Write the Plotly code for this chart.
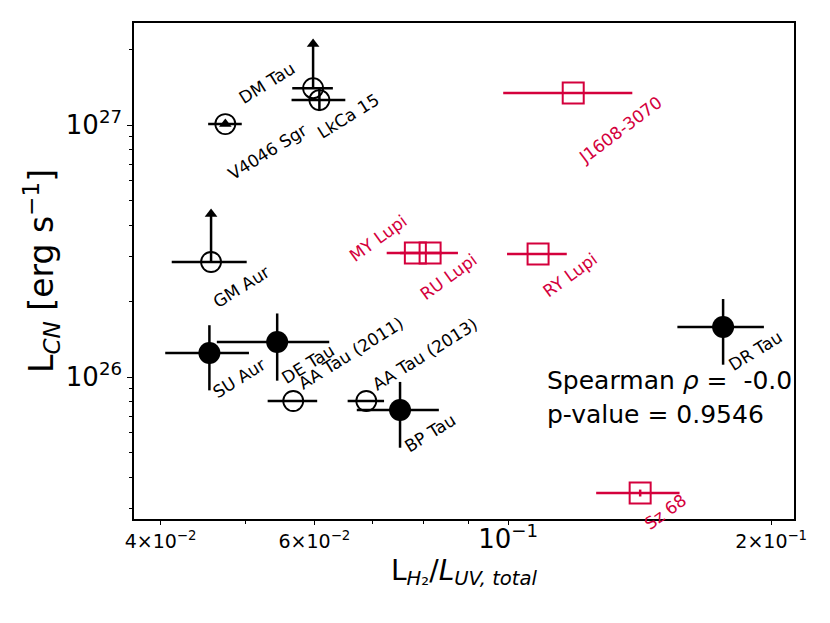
import numpy as np
import plotly.graph_objects as go

# ---------------- data ----------------
# filled black circles (detections)
det_names = ["SU Aur", "DE Tau", "BP Tau", "DR Tau"]
det_x = [0.0455, 0.0544, 0.0752, 0.1762]
det_xerr = [0.0050, 0.0080, 0.0081, 0.0200]
det_y = [1.245e26, 1.377e26, 7.40e25, 1.579e26]
det_yerr = [0.36e26, 0.41e26, 2.16e25, 0.46e26]

# open black circles
open_names = ["DM Tau", "LkCa 15", "V4046 Sgr", "GM Aur", "AA Tau (2011)", "AA Tau (2013)"]
open_x = [0.0598, 0.0608, 0.04745, 0.0457, 0.05675, 0.0688]
open_xerr = [0.0032, 0.0043, 0.0021, 0.0045, 0.0037, 0.0033]
open_y = [1.40e27, 1.256e27, 1.009e27, 2.86e26, 8.03e25, 8.03e25]
open_yerr_lo = [0.0, 0.12e27, 0.0, 0.0, 0.07e25, 0.07e25]
open_yerr_hi = [0.696e27, 0.146e27, 0.0, 1.575e26, 0.07e25, 0.07e25]
open_lolim = [True, False, True, True, False, False]

# open red squares
red_names = ["J1608-3070", "MY Lupi", "RU Lupi", "RY Lupi", "Sz 68"]
red_x = [0.1187, 0.0783, 0.0814, 0.1082, 0.1416]
red_xerr = [0.0200, 0.0057, 0.0062, 0.0085, 0.0155]
red_y = [1.340e27, 3.105e26, 3.105e26, 3.077e26, 3.465e25]
red_yerr = [0.0, 0.0, 0.0, 0.0, 0.11e25]

spearman_rho = "-0.0"
p_value = "0.9546"

x_tickvals = [0.04, 0.06, 0.1, 0.2]
x_ticktext = ['4×10<sup>−2</sup>',
              '6×10<sup>−2</sup>',
              '<span style="font-size:26px">10<sup>−1</sup></span>',
              '2×10<sup>−1</sup>']
x_minor = [0.05, 0.07, 0.08, 0.09]
y_tickvals = [1e26, 1e27]
y_ticktext = ['10<sup>26</sup>', '10<sup>27</sup>']
y_minor = [3e25, 4e25, 5e25, 6e25, 7e25, 8e25, 9e25,
           2e26, 3e26, 4e26, 5e26, 6e26, 7e26, 8e26, 9e26, 2e27]

# ---------------- styles ----------------
BLACK = "black"
RED = "#d4003c"
FONT = "DejaVu Sans"

# label offsets (pixels right, pixels down) and rotation
label_style = {
    "SU Aur": (30, 25, -32), "DE Tau": (31, 22, -32), "BP Tau": (30, 23, -32),
    "DR Tau": (32, 24, -32), "DM Tau": (-46, -5, -32), "LkCa 15": (29, 16, -32),
    "V4046 Sgr": (42, 28, -32), "GM Aur": (30, 25, -32),
    "AA Tau (2011)": (58, -48, -32), "AA Tau (2013)": (59, -47, -32),
    "J1608-3070": (47, 37, -37), "MY Lupi": (-37, -15, -36), "RU Lupi": (18, 24, -36),
    "RY Lupi": (32, 21, -36), "Sz 68": (25, 19, -36),
}

fig = go.Figure()

# filled circles
fig.add_trace(go.Scatter(
    x=det_x, y=det_y, mode="markers",
    marker=dict(size=22, color=BLACK),
    error_x=dict(type="data", array=det_xerr, color=BLACK, thickness=2.5, width=0),
    error_y=dict(type="data", array=det_yerr, color=BLACK, thickness=2.5, width=0),
    showlegend=False))

# open circles
fig.add_trace(go.Scatter(
    x=open_x, y=open_y, mode="markers",
    marker=dict(size=20, symbol="circle-open", color=BLACK, line=dict(width=1.8, color=BLACK)),
    error_x=dict(type="data", array=open_xerr, color=BLACK, thickness=2.5, width=0),
    error_y=dict(type="data", symmetric=False, array=open_yerr_hi, arrayminus=open_yerr_lo,
                 color=BLACK, thickness=2.5, width=0),
    showlegend=False))

# lower-limit carets
cx = [x for x, f in zip(open_x, open_lolim) if f]
cy = [y + e for y, e, f in zip(open_y, open_yerr_hi, open_lolim) if f]
fig.add_trace(go.Scatter(
    x=cx, y=cy, mode="markers",
    marker=dict(size=11, symbol="triangle-up", color=BLACK),
    showlegend=False))

# red squares
fig.add_trace(go.Scatter(
    x=red_x, y=red_y, mode="markers",
    marker=dict(size=21, symbol="square-open", color=RED, line=dict(width=2, color=RED)),
    error_x=dict(type="data", array=red_xerr, color=RED, thickness=2.5, width=0),
    error_y=dict(type="data", array=red_yerr, color=RED, thickness=2.5, width=0),
    showlegend=False))

annotations = []
for names, xs, ys, col in [(det_names, det_x, det_y, BLACK),
                           (open_names, open_x, open_y, BLACK),
                           (red_names, red_x, red_y, RED)]:
    for n, xv, yv in zip(names, xs, ys):
        dx, dy, ang = label_style[n]
        annotations.append(dict(
            x=np.log10(xv), y=np.log10(yv), xref="x", yref="y", text=n,
            showarrow=False, textangle=ang, xshift=dx, yshift=-dy,
            font=dict(family=FONT, size=17, color=col)))

annotations.append(dict(
    x=0.6227, y=0.280, xref="paper", yref="paper", xanchor="left", yanchor="middle",
    text="Spearman <i>ρ</i> =\u00a0\u00a0" + spearman_rho, showarrow=False,
    font=dict(family=FONT, size=25, color=BLACK)))
annotations.append(dict(
    x=0.6227, y=0.2097, xref="paper", yref="paper", xanchor="left", yanchor="middle",
    text="p-value = " + p_value, showarrow=False,
    font=dict(family=FONT, size=25, color=BLACK)))

fig.update_layout(
    width=830, height=623,
    margin=dict(l=126, r=44, t=15, b=112),
    plot_bgcolor="white", paper_bgcolor="white",
    font=dict(family=FONT, color=BLACK),
    annotations=annotations,
    xaxis=dict(
        type="log", range=[np.log10(0.0373), np.log10(0.2124)],
        showline=True, mirror=True, linecolor=BLACK, linewidth=1.5,
        showgrid=False, zeroline=False,
        ticks="outside", ticklen=4, tickwidth=1.2, tickcolor=BLACK,
        tickmode="array", tickvals=x_tickvals, ticktext=x_ticktext,
        tickfont=dict(family=FONT, size=19, color=BLACK),
        minor=dict(tickmode="array", tickvals=x_minor, ticks="outside", ticklen=3,
                   tickwidth=1, tickcolor=BLACK, showgrid=False),
        title=dict(text="L<sub><i>H</i>₂</sub>/<i>L<sub>UV, total</sub></i>",
                   font=dict(family=FONT, size=28, color=BLACK), standoff=0),
    ),
    yaxis=dict(
        type="log", range=[25.4365, 27.4048],
        showline=True, mirror=True, linecolor=BLACK, linewidth=1.5,
        showgrid=False, zeroline=False,
        ticks="outside", ticklen=5, tickwidth=1.2, tickcolor=BLACK,
        tickmode="array", tickvals=y_tickvals, ticktext=y_ticktext,
        tickfont=dict(family=FONT, size=26, color=BLACK),
        minor=dict(tickmode="array", tickvals=y_minor, ticks="outside", ticklen=3,
                   tickwidth=1, tickcolor=BLACK, showgrid=False),
        title=dict(text="L<sub><i>CN</i></sub> [erg s<sup>−1</sup>]",
                   font=dict(family=FONT, size=33, color=BLACK), standoff=2),
    ),
)

fig.write_html("out.html")
